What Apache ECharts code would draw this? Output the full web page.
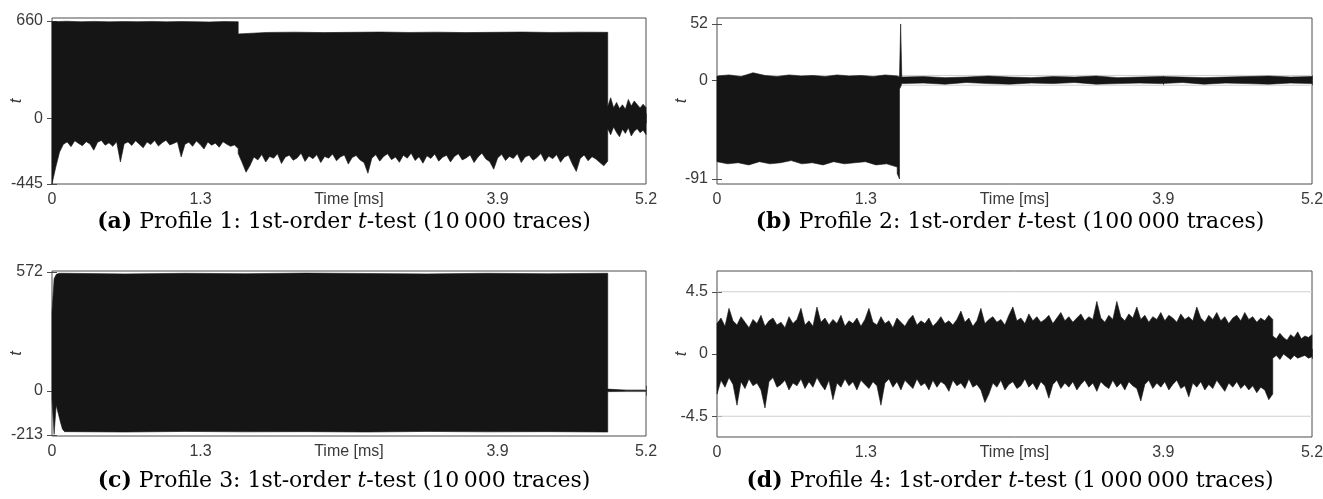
<!DOCTYPE html>
<html>
<head>
<meta charset="utf-8">
<title>t-test profiles</title>
<script src="https://cdn.jsdelivr.net/npm/echarts@6/dist/echarts.min.js"></script>
<style>
  html, body { margin: 0; padding: 0; background: #fff; }
  #chart { width: 1323px; height: 499px; }
</style>
</head>
<body>
<div id="chart"></div>
<script>
// shared time axis (ms)
const timeTicks = [0, 1.3, 3.9, 5.2];
const tMin = 0;
const tMax = 5.2;
const thresholds = [-4.5, 4.5];

// each trace = segments between breakpoints, upper/lower envelope samples
// Profile 1
const timeA = [0, 1.63, 4.865, 5.2];
const hiA = [
  [655, 658, 655, 657, 654, 656, 655, 657, 654, 656, 655, 653, 656, 655],
  [572, 582, 584, 581, 583, 585, 582, 584, 581, 583, 585, 582, 584, 583],
  [80, 140, 72, 108, 66, 92, 62, 128, 84, 118, 94, 70, 96, 74]
];
const loA = [
  [-445, -330, -228, -176, -160, -192, -152, -170, -186, -158, -174, -216, -162, -150, -182, -166, -190,
   -158, -296, -172, -160, -184, -152, -176, -200, -160, -178, -150, -188, -165, -148, -180, -170, -158,
   -262, -176, -162, -190, -154, -178, -208, -160, -182, -168, -196, -158, -176, -190, -180, -205],
  [-238, -300, -365, -320, -262, -282, -245, -296, -258, -270, -240, -306, -262, -250, -284, -268, -236,
   -292, -255, -274, -246, -300, -258, -270, -242, -288, -262, -248, -310, -266, -252, -282, -300, -372,
   -270, -246, -290, -258, -240, -280, -262, -298, -250, -270, -236, -286, -260, -304, -254, -272, -242,
   -290, -264, -250, -296, -258, -240, -282, -268, -248, -300, -262, -236, -276, -294, -345, -268, -244,
   -286, -258, -272, -240, -300, -262, -250, -284, -266, -238, -292, -256, -274, -246, -298, -262, -250,
   -310, -360, -272, -248, -288, -260, -276, -300, -322, -290],
  [-70, -112, -58, -96, -125, -74, -102, -64, -120, -88, -70, -98, -80, -110]
];
const yTicksA = [-445, 0, 660];

// Profile 2
const timeB = [0, 1.575, 1.595, 1.615, 5.2];
const hiB = [
  [4, 5, 3.5, 7, 4.5, 3.5, 5, 4, 4.5, 3.5, 5, 4, 4.5, 3.5, 5, 4],
  [4, 3],
  [3, 52, 3],
  [3, 3.5, 2.5, 3, 4, 3, 2.5, 3.5, 3, 4, 2.5, 3, 3.5, 3, 2.5, 3, 3.5, 4, 3, 3.5]
];
const loB = [
  [-75, -77, -76, -78, -75, -77, -76, -74, -77, -76, -78, -75, -77, -76, -75, -78, -77, -80],
  [-86, -91],
  [-8, -6, -3],
  [-3, -2.5, -3.5, -2, -3, -3.5, -2.5, -3, -2, -3.5, -3, -2.5, -3, -2, -3.5, -2.5, -3, -3.5, -2.5, -3]
];
const yTicksB = [-91, 0, 52];

// Profile 3
const timeC = [0, 0.11, 4.865, 5.2];
const hiC = [
  [380, 540, 560, 565, 566, 566, 566],
  [566, 563, 566, 564, 567, 565, 563, 566, 564, 566],
  [8, 2.5, 2.5]
];
const loC = [
  [-40, -210, -70, -110, -150, -185, -197],
  [-197, -199, -196, -198, -197, -199, -196, -198, -197, -199],
  [-4, -2.5, -2.5]
];
const yTicksC = [-213, 0, 572];

// Profile 4
const timeD = [0, 4.857, 5.2];
const hiD = [
  [2.2, 2.6, 2.0, 3.3, 2.4, 2.1, 2.7, 2.3, 1.9, 2.5, 2.2, 2.8, 2.0, 2.4, 2.6, 2.1, 2.3, 1.9, 2.7, 2.2,
   2.5, 3.3, 2.1, 2.4, 2.0, 3.4, 2.3, 2.6, 2.1, 2.5, 2.2, 2.8, 2.0, 2.4, 2.2, 2.6, 2.0, 2.5, 3.3, 2.3,
   2.1, 2.7, 2.2, 2.4, 1.9, 2.6, 2.3, 2.0, 2.5, 2.8, 2.1, 2.4, 2.2, 2.6, 2.0, 2.3, 2.7, 2.2, 2.4, 2.1,
   2.5, 3.1, 2.3, 2.6, 2.0, 2.4, 3.3, 2.2, 2.5, 2.7, 2.3, 2.5, 2.1, 2.8, 3.4, 2.4, 2.6, 2.2, 2.9, 2.4,
   2.7, 2.3, 2.5, 2.8, 2.2, 2.6, 3.0, 2.4, 2.7, 2.3, 2.6, 2.9, 2.4, 2.7, 2.5, 3.8, 2.6, 2.3, 2.8, 2.5,
   3.8, 2.7, 2.4, 2.9, 2.6, 3.4, 2.5, 2.8, 2.3, 2.7, 2.5, 3.0, 2.4, 2.8, 2.6, 2.3, 2.9, 2.5, 2.7, 2.4,
   3.4, 2.6, 2.3, 2.8, 2.5, 3.0, 2.4, 2.7, 2.2, 2.6, 2.8, 2.4, 3.0, 2.5, 2.7, 2.3, 2.6, 2.4, 2.8, 2.5],
  [1.3, 1.1, 1.5, 1.2, 1.0, 1.4, 1.2, 1.6, 1.1, 1.3, 1.2, 1.4]
];
const loD = [
  [-2.9, -1.9, -2.4, -1.7, -2.2, -3.7, -2.0, -2.5, -1.8, -2.3, -2.1, -2.6, -3.9, -2.0, -1.7, -2.4, -2.2,
   -1.9, -2.6, -2.1, -2.3, -1.8, -2.5, -2.0, -2.4, -1.7, -2.2, -2.6, -1.9, -3.3, -2.1, -2.4, -1.8, -2.3,
   -2.0, -2.6, -1.9, -2.2, -2.5, -2.0, -2.3, -3.7, -2.1, -1.8, -2.4, -2.0, -2.6, -1.9, -2.2, -2.5, -1.8,
   -2.3, -2.1, -2.6, -1.9, -2.4, -2.0, -2.2, -2.7, -1.9, -2.3, -2.1, -2.5, -1.8, -2.4, -2.2, -2.6, -3.5,
   -2.9, -2.1, -2.4, -1.9, -2.6, -2.2, -2.0, -2.5, -2.3, -1.8, -2.4, -2.1, -2.6, -2.0, -2.3, -3.2, -2.2,
   -1.9, -2.5, -2.1, -2.4, -2.0, -2.6, -2.2, -1.9, -2.4, -2.1, -2.7, -2.0, -2.3, -2.5, -1.9, -2.4, -2.1,
   -2.6, -2.0, -2.3, -2.5, -3.4, -2.2, -1.9, -2.5, -2.1, -2.4, -2.0, -2.6, -2.2, -1.9, -2.5, -2.3, -3.1,
   -2.1, -2.4, -2.0, -2.6, -2.2, -2.5, -1.9, -2.3, -2.7, -2.1, -2.4, -2.0, -2.5, -2.2, -2.6, -2.3, -2.8,
   -2.4, -2.6, -3.3, -2.9],
  [-0.3, -0.1, -0.4, 0.0, -0.2, -0.4, -0.1, -0.3, -0.2, -0.1, -0.3, -0.2]
];
const yTicksD = [-4.5, 0, 4.5];

const INK = '#151515';
const AXIS = '#4d4d4d';
const LABEL = '#3a3a3a';
const GRIDLINE = '#cfcfcf';
const SANS = '"Liberation Sans", Arial, Helvetica, sans-serif';
const SERIF = '"DejaVu Serif", "Liberation Serif", serif';
const CAP_SIZE = 22;

const panels = [
  { time: timeA, hi: hiA, lo: loA, yTicks: yTicksA, yMin: -445, yMax: 680,
    box: { left: 52, top: 18, width: 594, height: 166 },
    cap: { x: 339, y: 206, tag: '(a)', text: ' Profile 1: 1st-order ', n: '10\u2009000' } },
  { time: timeB, hi: hiB, lo: loB, yTicks: yTicksB, yMin: -95.6, yMax: 57.5,
    box: { left: 717, top: 18, width: 595, height: 166 },
    cap: { x: 1005, y: 206, tag: '(b)', text: ' Profile 2: 1st-order ', n: '100\u2009000' } },
  { time: timeC, hi: hiC, lo: loC, yTicks: yTicksC, yMin: -218, yMax: 577,
    box: { left: 52, top: 271, width: 594, height: 165 },
    cap: { x: 339, y: 465, tag: '(c)', text: ' Profile 3: 1st-order ', n: '10\u2009000' } },
  { time: timeD, hi: hiD, lo: loD, yTicks: yTicksD, yMin: -6, yMax: 6,
    box: { left: 717, top: 271, width: 595, height: 166 },
    cap: { x: 1005, y: 465, tag: '(d)', text: ' Profile 4: 1st-order ', n: '1\u2009000\u2009000' } }
];

// spread each segment's samples evenly between its breakpoints
function edge(breaks, segs) {
  const pts = [];
  segs.forEach(function (vals, s) {
    const t0 = breaks[s], t1 = breaks[s + 1], n = vals.length;
    vals.forEach(function (v, k) {
      pts.push([t0 + (t1 - t0) * (n > 1 ? k / (n - 1) : 0), v]);
    });
  });
  return pts;
}

const tickFont = { color: LABEL, fontSize: 16, fontFamily: SANS };

const option = { animation: false, title: [], grid: [], xAxis: [], yAxis: [], series: [] };

panels.forEach(function (p, i) {
  option.grid.push(Object.assign({
    show: true, borderColor: AXIS, borderWidth: 1, backgroundColor: '#fff',
    containLabel: false, outerBoundsMode: 'none'
  }, p.box));

  // bottom + top time axes
  option.xAxis.push({
    gridIndex: i, type: 'value', min: tMin, max: tMax, position: 'bottom',
    axisLine: { show: false },
    axisTick: { inside: true, length: 5, customValues: timeTicks, lineStyle: { color: AXIS } },
    axisLabel: Object.assign({ customValues: timeTicks, margin: 8 }, tickFont),
    splitLine: { show: false },
    name: 'Time [ms]', nameLocation: 'middle', nameGap: 8, nameMoveOverlap: false,
    nameTextStyle: Object.assign({ verticalAlign: 'top' }, tickFont)
  });
  option.xAxis.push({
    gridIndex: i, type: 'value', min: tMin, max: tMax, position: 'top',
    axisLine: { show: false },
    axisTick: { inside: true, length: 5, customValues: timeTicks, lineStyle: { color: AXIS } },
    axisLabel: { show: false },
    splitLine: { show: false }
  });

  // left + right t axes
  option.yAxis.push({
    gridIndex: i, type: 'value', min: p.yMin, max: p.yMax, position: 'left',
    axisLine: { show: false },
    axisTick: { inside: true, length: 5, customValues: p.yTicks, lineStyle: { color: AXIS } },
    axisLabel: Object.assign({ customValues: p.yTicks, margin: 9 }, tickFont),
    splitLine: { show: false },
    name: 't', nameLocation: 'middle', nameGap: 27, nameRotate: 90, nameMoveOverlap: false,
    nameTextStyle: { color: LABEL, fontSize: 17, fontFamily: SANS, fontStyle: 'italic' }
  });
  option.yAxis.push({
    gridIndex: i, type: 'value', min: p.yMin, max: p.yMax, position: 'right',
    axisLine: { show: false },
    axisTick: { inside: true, length: 5, customValues: p.yTicks, lineStyle: { color: AXIS } },
    axisLabel: { show: false },
    splitLine: { show: false }
  });

  // +-4.5 threshold lines
  thresholds.forEach(function (th) {
    option.series.push({
      type: 'line', xAxisIndex: 2 * i, yAxisIndex: 2 * i, z: 1, silent: true,
      symbol: 'none', data: [[tMin, th], [tMax, th]],
      lineStyle: { color: GRIDLINE, width: 1 }
    });
  });

  // trace envelope
  const upper = edge(p.time, p.hi);
  const lower = edge(p.time, p.lo).reverse();
  option.series.push({
    type: 'custom', xAxisIndex: 2 * i, yAxisIndex: 2 * i, z: 2, silent: true,
    data: [[tMin, 0]],
    renderItem: function (params, api) {
      const pts = upper.concat(lower).map(function (d) { return api.coord(d); });
      return {
        type: 'polygon',
        shape: { points: pts },
        style: { fill: INK, stroke: INK, lineWidth: 0.6 }
      };
    }
  });

  // caption
  option.title.push({
    left: p.cap.x, top: p.cap.y, textAlign: 'center',
    text: '{b|' + p.cap.tag + '}{r|' + p.cap.text + '}{i|t}{r|-test (' + p.cap.n + ' traces)}',
    textStyle: {
      fontSize: CAP_SIZE, fontFamily: SERIF, color: '#000', fontWeight: 'normal',
      rich: {
        b: { fontSize: CAP_SIZE, fontFamily: SERIF, color: '#000', fontWeight: 'bold' },
        r: { fontSize: CAP_SIZE, fontFamily: SERIF, color: '#000' },
        i: { fontSize: CAP_SIZE, fontFamily: SERIF, color: '#000', fontStyle: 'italic' }
      }
    }
  });
});

const chart = echarts.init(document.getElementById('chart'), null, { renderer: 'canvas' });
chart.setOption(option);
</script>
</body>
</html>
